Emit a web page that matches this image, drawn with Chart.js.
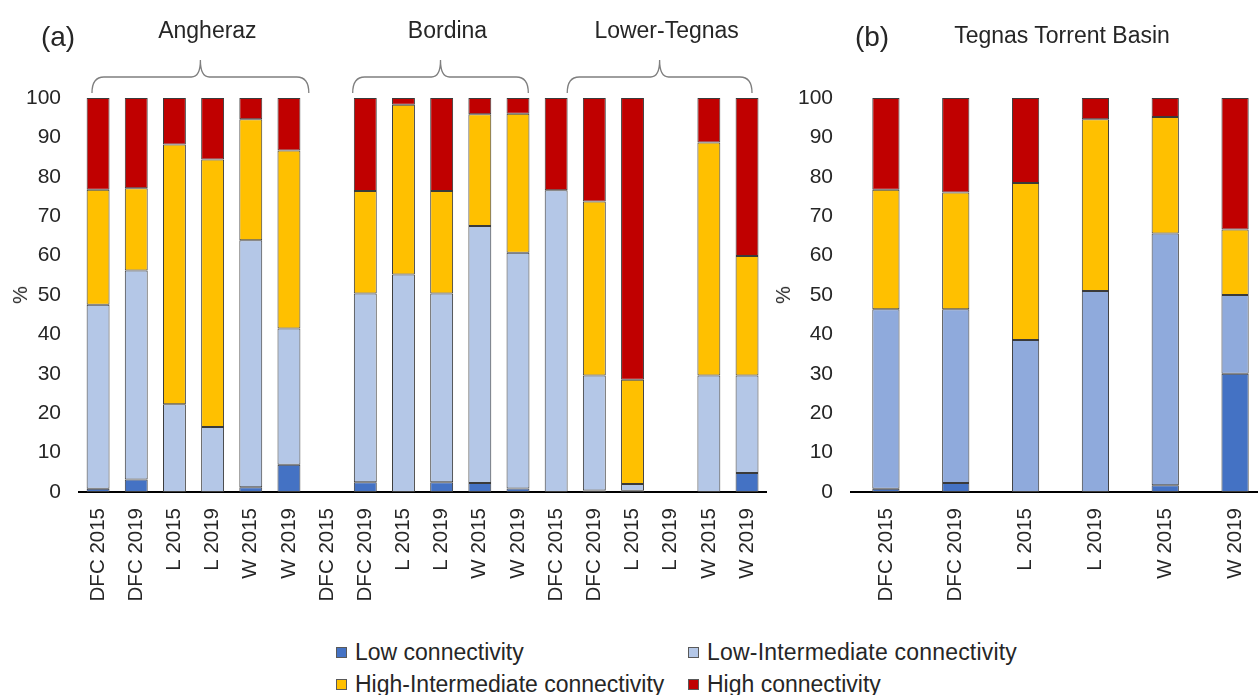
<!DOCTYPE html>
<html>
<head>
<meta charset="utf-8">
<script src="https://cdn.jsdelivr.net/npm/chart.js@4.4.1/dist/chart.umd.min.js"></script>
<style>
html,body{margin:0;padding:0;background:#fff;}
body{width:1258px;height:695px;overflow:hidden;position:relative;font-family:"Liberation Sans",Arial,sans-serif;color:#262626;}
#ca{position:absolute;left:0;top:0;}
#cb{position:absolute;left:770px;top:0;}
.t{position:absolute;white-space:nowrap;line-height:1;transform:translate(-50%,-50%);}
.pct{position:absolute;white-space:nowrap;line-height:1;font-size:20px;transform:translate(-50%,-50%) rotate(-90deg);}
.leg{position:absolute;white-space:nowrap;font-size:23px;line-height:1;display:flex;align-items:center;}
.leg span.box{display:inline-block;width:9px;height:9px;border:1px solid #595959;margin-right:8px;}
</style>
</head>
<body>
<canvas id="ca" width="780" height="620"></canvas>
<canvas id="cb" width="500" height="620"></canvas>

<div class="t" style="left:58px;top:37px;font-size:28px;">(a)</div>
<div class="t" style="left:872px;top:37px;font-size:28px;">(b)</div>
<div class="t" style="left:1062px;top:35px;font-size:23px;">Tegnas Torrent Basin</div>
<div class="pct" style="left:20px;top:295px;">%</div>
<div class="pct" style="left:783px;top:295px;">%</div>

<div class="leg" style="left:336px;top:641px;"><span class="box" style="background:#4472C4"></span>Low connectivity</div>
<div class="leg" style="left:688px;top:641px;"><span class="box" style="background:#B4C7E7"></span><span style="letter-spacing:0.2px">Low-Intermediate connectivity</span></div>
<div class="leg" style="left:336px;top:673px;"><span class="box" style="background:#FFC000"></span>High-Intermediate connectivity</div>
<div class="leg" style="left:688px;top:673px;"><span class="box" style="background:#C00000"></span>High connectivity</div>

<script>
// ---------- data ----------
const seriesNames = ['Low connectivity', 'Low-Intermediate connectivity', 'High-Intermediate connectivity', 'High connectivity'];
const groupNames = ['Angheraz', 'Bordina', 'Lower-Tegnas'];

const categoriesA = ['DFC 2015','DFC 2019','L 2015','L 2019','W 2015','W 2019',
                     'DFC 2015','DFC 2019','L 2015','L 2019','W 2015','W 2019',
                     'DFC 2015','DFC 2019','L 2015','L 2019','W 2015','W 2019'];
const lowA     = [0.8, 3.2, 0, 0, 1.2, 6.9,   null, 2.5, 0, 2.5, 2.3, 0.9,   0, 0.4, 0.3, null, 0, 4.8];
const lowIntA  = [46.7, 53.0, 22.3, 16.5, 62.7, 34.6,   null, 47.9, 55.2, 47.9, 65.2, 59.8,   76.6, 29.2, 1.7, null, 29.6, 24.8];
const highIntA = [29.2, 20.9, 65.9, 67.9, 30.7, 45.2,   null, 26.0, 43.1, 26.0, 28.4, 35.3,   0, 44.1, 26.5, null, 59.1, 30.3];
const highA    = [23.3, 22.9, 11.8, 15.6, 5.4, 13.3,   null, 23.6, 1.7, 23.6, 4.1, 4.0,   23.4, 26.3, 71.5, null, 11.3, 40.1];

const categoriesB = ['DFC 2015','DFC 2019','L 2015','L 2019','W 2015','W 2019'];
const lowB     = [0.8, 2.3, 0, 0, 1.7, 30.0];
const lowIntB  = [45.6, 44.1, 38.6, 51.0, 63.9, 20.0];
const highIntB = [30.3, 29.6, 39.8, 43.6, 29.6, 16.6];
const highB    = [23.3, 24.0, 21.6, 5.4, 4.8, 33.4];

const yTicks = [0, 10, 20, 30, 40, 50, 60, 70, 80, 90, 100];

// ---------- styling ----------
const FONT = '"Liberation Sans", Arial, sans-serif';
const TXT = '#262626';
const colorsA = ['#4472C4', '#B4C7E7', '#FFC000', '#C00000'];
const colorsB = ['#4472C4', '#8FAADC', '#FFC000', '#C00000'];

function makeDatasets(arrs, colors, catPct) {
  return arrs.map((d, i) => ({
    label: seriesNames[i],
    data: d,
    backgroundColor: colors[i],
    borderColor: '#3a3a3a',
    borderWidth: 1,
    borderSkipped: false,
    barPercentage: 1,
    categoryPercentage: catPct
  }));
}

const bracePlugin = {
  id: 'braces',
  afterDraw(chart, args, opts) {
    if (!opts || !opts.groups) return;
    const xs = chart.scales.x;
    const ctx = chart.ctx;
    const p0 = xs.getPixelForValue(0);
    const w = xs.getPixelForValue(1) - p0;
    ctx.save();
    opts.groups.forEach(g => {
      const x1 = p0 + g.from * w, x2 = p0 + g.to * w, xm = (x1 + x2) / 2;
      const yTip = 93, yLine = 77, yPeak = 60;
      ctx.beginPath();
      ctx.moveTo(x1, yTip);
      ctx.quadraticCurveTo(x1, yLine, x1 + 12, yLine);
      ctx.lineTo(xm - 9, yLine);
      ctx.quadraticCurveTo(xm, yLine, xm, yPeak);
      ctx.quadraticCurveTo(xm, yLine, xm + 9, yLine);
      ctx.lineTo(x2 - 12, yLine);
      ctx.quadraticCurveTo(x2, yLine, x2, yTip);
      ctx.strokeStyle = '#7f7f7f';
      ctx.lineWidth = 1.3;
      ctx.stroke();
      ctx.fillStyle = TXT;
      ctx.font = '23px ' + FONT;
      ctx.textAlign = 'center';
      ctx.textBaseline = 'middle';
      ctx.fillText(g.name, xm + 7, 32);
    });
    ctx.restore();
  }
};

function makeOptions(yWidth, padRight, braces) {
  return {
    responsive: false,
    animation: false,
    layout: { padding: { top: 98, right: padRight, left: 0, bottom: 0 } },
    plugins: {
      legend: { display: false },
      tooltip: { enabled: false },
      braces: braces
    },
    scales: {
      x: {
        stacked: true,
        grid: { display: false },
        border: { display: true, color: '#000', width: 2 },
        ticks: { font: { family: FONT, size: 20.5 }, color: TXT, maxRotation: 90, minRotation: 90, padding: 8, autoSkip: false },
        afterFit(s) { s.height = 128; }
      },
      y: {
        stacked: true,
        min: 0, max: 100,
        afterBuildTicks(s) { s.ticks = yTicks.map(v => ({ value: v })); },
        grid: { display: false },
        border: { display: false },
        ticks: { font: { family: FONT, size: 21 }, color: TXT, padding: 10 },
        afterFit(s) { s.width = yWidth; }
      }
    }
  };
}

new Chart(document.getElementById('ca'), {
  type: 'bar',
  data: { labels: categoriesA, datasets: makeDatasets([lowA, lowIntA, highIntA, highA], colorsA, 0.6) },
  options: makeOptions(79, 13, {
    groups: [
      { name: groupNames[0], from: -0.16, to: 5.52 },
      { name: groupNames[1], from: 6.67, to: 11.27 },
      { name: groupNames[2], from: 12.29, to: 17.13 }
    ]
  }),
  plugins: [bracePlugin]
});

new Chart(document.getElementById('cb'), {
  type: 'bar',
  data: { labels: categoriesB, datasets: makeDatasets([lowB, lowIntB, highIntB, highB], colorsB, 0.39) },
  options: makeOptions(81, 0, {}),
  plugins: [bracePlugin]
});
</script>
</body>
</html>
